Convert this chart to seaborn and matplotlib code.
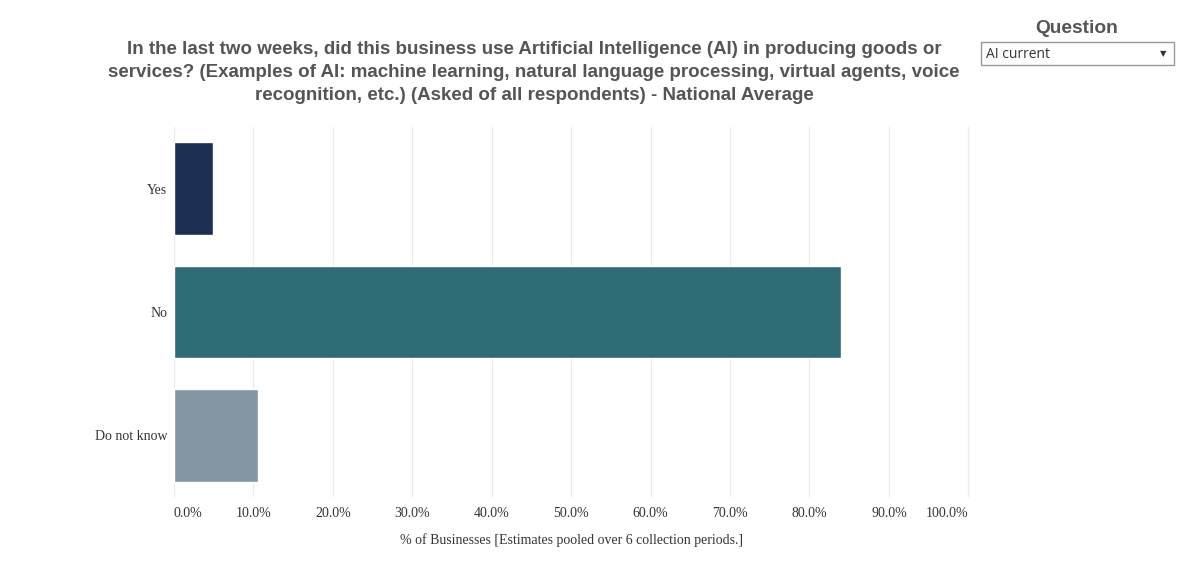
import matplotlib
matplotlib.use("Agg")
import matplotlib.pyplot as plt
import matplotlib.patches as mpatches
import pandas as pd
import seaborn as sns

# Data
categories = ["Yes", "No", "Do not know"]
values = [4.9, 84.0, 10.6]
colors = ["#1b2f52", "#2e6b74", "#8496a3"]
x_ticks = [0, 10, 20, 30, 40, 50, 60, 70, 80, 90, 100]

df = pd.DataFrame({"answer": categories, "pct": values})

sns.set_style("white")
plt.rcParams["font.family"] = ["Liberation Serif", "DejaVu Serif"]

fig = plt.figure(figsize=(12, 5.74), dpi=100)
ax = fig.add_axes([0.145, 0.134, 0.6633, 0.645])

sns.barplot(data=df, x="pct", y="answer", hue="answer", order=categories,
            palette=dict(zip(categories, colors)), width=0.75, legend=False,
            saturation=1, ax=ax)

ax.set_xlim(0, 100.2)
ax.set_ylim(2.5, -0.5)
ax.set_xticks(x_ticks)
ax.set_xticklabels([f"{t:.1f}%" for t in x_ticks], fontsize=10, color="#333333")
# first and last labels are kept inside the axis like the original
labels = ax.get_xticklabels()
labels[0].set_ha("left")
labels[-1].set_ha("right")
ax.tick_params(axis="y", labelsize=10, labelcolor="#333333", length=0, pad=5)
ax.tick_params(axis="x", length=0, pad=7)
ax.set_ylabel("")
ax.set_xlabel("% of Businesses [Estimates pooled over 6 collection periods.]",
              fontsize=10, color="#333333", labelpad=10)
ax.grid(axis="x", color="#ebebeb", linewidth=0.9)
ax.set_axisbelow(True)
for s in ax.spines.values():
    s.set_visible(False)

title = ("In the last two weeks, did this business use Artificial Intelligence (AI) in producing goods or\n"
         "services? (Examples of AI: machine learning, natural language processing, virtual agents, voice\n"
         "recognition, etc.) (Asked of all respondents) - National Average")
fig.text(0.445, 0.928, title, ha="center", va="top", fontsize=13.5, fontweight="bold",
         color="#555555", family=["Liberation Sans", "DejaVu Sans"], linespacing=1.45)

# Filter widget in the top right
fig.text(0.8975, 0.95, "Question", ha="center", va="center", fontsize=13.8,
         fontweight="bold", color="#555555", family=["Liberation Sans", "DejaVu Sans"])
box = mpatches.Rectangle((981 / 1200, 1 - 65 / 574), 193 / 1200, 23 / 574,
                         transform=fig.transFigure, facecolor="white",
                         edgecolor="#999999", linewidth=1)
fig.patches.append(box)
fig.text(986 / 1200, 1 - 54 / 574, "AI current", ha="left", va="center", fontsize=10,
         color="#333333", family=["Open Sans", "DejaVu Sans"])
fig.text(1163 / 1200, 1 - 54 / 574, "▼", ha="center", va="center", fontsize=6,
         color="#333333", family=["DejaVu Sans"])

fig.savefig("out.png", dpi=100, facecolor="white")
